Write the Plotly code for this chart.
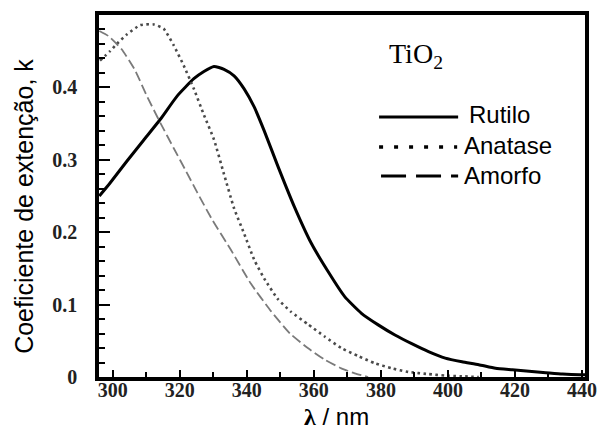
import plotly.graph_objects as go

# ---- data ----
rutilo_x = [296.0, 299.2, 304.2, 309.2, 314.2, 319.2, 324.2, 327.2, 330.2, 333.2,
            336.2, 339.2, 342.2, 345.2, 349.2, 354.2, 359.2, 364.2, 369.2, 374.2,
            379.2, 384.2, 389.2, 394.2, 399.2, 404.2, 409.2, 414.2, 419.2, 424.2,
            429.2, 434.2, 439.2, 440.9]
rutilo_k = [0.250, 0.268, 0.298, 0.327, 0.356, 0.388, 0.412, 0.422, 0.429, 0.425,
            0.416, 0.398, 0.373, 0.340, 0.292, 0.235, 0.185, 0.146, 0.111, 0.088,
            0.072, 0.058, 0.046, 0.035, 0.026, 0.021, 0.017, 0.012, 0.010, 0.008,
            0.006, 0.004, 0.003, 0.003]

anatase_x = [296.2, 299.2, 301.2, 304.2, 308.2, 312.2, 315.2, 318.2, 321.2, 324.2,
             327.2, 330.2, 333.2, 336.2, 339.2, 342.2, 345.2, 349.2, 353.2, 358.2,
             363.2, 368.2, 373.2, 378.2, 383.2, 388.2, 394.2, 399.2, 404.2, 409.2]
anatase_k = [0.437, 0.450, 0.460, 0.473, 0.486, 0.487, 0.481, 0.458, 0.430, 0.398,
             0.362, 0.328, 0.280, 0.233, 0.198, 0.162, 0.136, 0.108, 0.090, 0.073,
             0.056, 0.040, 0.029, 0.019, 0.012, 0.007, 0.004, 0.002, 0.001, 0.0]

amorfo_x = [296.0, 298.7, 302.6, 306.5, 310.2, 314.2, 318.2, 321.9, 325.2, 329.7,
            335.2, 341.2, 347.2, 352.9, 358.2, 363.2, 368.2, 372.2, 376.2]
amorfo_k = [0.478, 0.471, 0.453, 0.425, 0.388, 0.351, 0.316, 0.284, 0.255, 0.217,
            0.176, 0.129, 0.091, 0.060, 0.040, 0.024, 0.012, 0.005, 0.0]

series_names = ["Rutilo", "Anatase", "Amorfo"]
x_ticks = [300, 320, 340, 360, 380, 400, 420, 440]
y_ticks = [0, 0.1, 0.2, 0.3, 0.4]
y_tick_text = ["0", "0.1", "0.2", "0.3", "0.4"]

# ---- figure ----
W, H = 606, 429
L, R, T, B = 99, 9, 15, 52
pw, ph = W - L - R, H - T - B


def px(xp):
    return (xp - L) / pw


def py(yp):
    return (H - B - yp) / ph


fig = go.Figure()
fig.add_trace(go.Scatter(x=rutilo_x, y=rutilo_k, mode="lines", name=series_names[0],
                         line=dict(color="#000000", width=3, shape="spline", smoothing=0.5),
                         showlegend=False))
fig.add_trace(go.Scatter(x=anatase_x, y=anatase_k, mode="lines", name=series_names[1],
                         line=dict(color="#4a4a4a", width=2.6, dash="2.5px,3.5px",
                                   shape="spline", smoothing=0.5),
                         showlegend=False))
fig.add_trace(go.Scatter(x=amorfo_x, y=amorfo_k, mode="lines", name=series_names[2],
                         line=dict(color="#7a7a7a", width=1.8, dash="10px,4px",
                                   shape="spline", smoothing=0.5),
                         showlegend=False))

tickfont = dict(family="Liberation Serif", size=20, color="#222222", weight="bold")

fig.update_xaxes(range=[295.9, 440.9], tickvals=x_ticks, ticks="inside", ticklen=7,
                 tickwidth=2, tickcolor="black",
                 minor=dict(dtick=10, tick0=300, ticks="inside", ticklen=5, tickwidth=2,
                            tickcolor="black"),
                 showline=True, linewidth=3.5, linecolor="black", mirror=True,
                 showgrid=False, zeroline=False, tickfont=tickfont,
                 ticklabelstandoff=-8)
fig.update_yaxes(range=[0, 0.5], tickvals=y_ticks, ticktext=y_tick_text, ticks="inside",
                 ticklen=11, tickwidth=2, tickcolor="black",
                 minor=dict(dtick=0.02, tick0=0, ticks="inside", ticklen=6, tickwidth=2,
                            tickcolor="black"),
                 showline=True, linewidth=3.5, linecolor="black", mirror=True,
                 showgrid=False, zeroline=False, tickfont=tickfont,
                 ticklabelstandoff=14)

ann = []
ann.append(dict(text="Coeficiente de extenção, k", x=px(22), y=py(206), xref="paper",
                yref="paper", textangle=-90, showarrow=False, xanchor="center",
                yanchor="middle", font=dict(family="Liberation Sans", size=25, color="black")))
ann.append(dict(text="<b><span style='font-family:Liberation Serif'>λ</span></b> / nm",
                x=px(342), y=py(416), xref="paper", yref="paper", showarrow=False,
                xanchor="center", yanchor="middle",
                font=dict(family="Liberation Sans", size=24, color="black")))
ann.append(dict(text="TiO<sub>2</sub>", x=px(424), y=py(55), xref="paper", yref="paper",
                showarrow=False, xanchor="center", yanchor="middle",
                font=dict(family="Liberation Serif", size=28, color="black")))

leg_text_x = [476, 471, 471]
leg_text_y = [115, 145, 175]
for name, tx, ty in zip(series_names, leg_text_x, leg_text_y):
    ann.append(dict(text=name, x=px(tx), y=py(ty), xref="paper", yref="paper",
                    showarrow=False, xanchor="left", yanchor="middle",
                    font=dict(family="Liberation Sans", size=24, color="black")))

shapes = [
    dict(type="line", xref="paper", yref="paper", x0=px(386), x1=px(467), y0=py(117),
         y1=py(117), line=dict(color="black", width=3)),
    dict(type="line", xref="paper", yref="paper", x0=px(386), x1=px(466), y0=py(147),
         y1=py(147), line=dict(color="black", width=3.5, dash="4px,11px")),
    dict(type="line", xref="paper", yref="paper", x0=px(388), x1=px(467), y0=py(176),
         y1=py(176), line=dict(color="black", width=3, dash="25px,10px")),
]

fig.update_layout(width=W, height=H, margin=dict(l=L, r=R, t=T, b=B),
                  paper_bgcolor="white", plot_bgcolor="white",
                  annotations=ann, shapes=shapes, showlegend=False)

fig.write_html("out.html")
